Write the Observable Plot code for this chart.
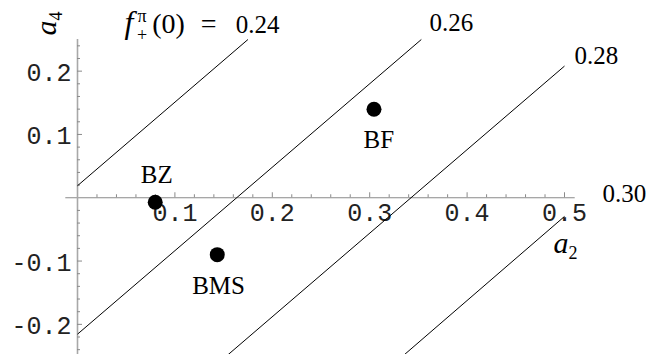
<!DOCTYPE html>
<html><head><meta charset="utf-8">
<script src="https://cdn.jsdelivr.net/npm/d3@7"></script>
<script src="https://cdn.jsdelivr.net/npm/@observablehq/plot@0.6"></script>
<style>html,body{margin:0;padding:0;background:#fff} svg{display:block}</style>
</head><body><div id="chart"></div>
<script>
// Contour lines of f_+^pi(0) in the (a2, a4) plane: endpoints
const contourLabels = ["0.24", "0.26", "0.28", "0.30"];
const lineA2Start = [0, 0, 0.153, 0.334];
const lineA4Start = [0.019, -0.2155, -0.25, -0.25];
const lineA2End = [0.175, 0.353, 0.5, 0.5];
const lineA4End = [0.25, 0.25, 0.208, -0.0295];
const contourLabelA2 = [0.0483, 0.3614, 0.5103, 0.539];
const contourLabelA4 = [0.2722, 0.2758, 0.2243, 0.0052];

// Points
const pointNames = ["BZ", "BMS", "BF"];
const pointA2 = [0.0798, 0.1435, 0.3044];
const pointA4 = [-0.007, -0.0899, 0.1398];
const pointLabelA2 = [0.0814, 0.1448, 0.3093];
const pointLabelA4 = [0.0352, -0.1393, 0.0918];

// Axes
const xTickValues = [0.1, 0.2, 0.3, 0.4, 0.5];
const xTickLabels = ["0.1", "0.2", "0.3", "0.4", "0.5"];
const yTickValues = [-0.2, -0.1, 0.1, 0.2];
const yTickLabels = ["-0.2", "-0.1", "0.1", "0.2"];
const xMinorTicks = [0.02,0.04,0.06,0.08,0.12,0.14,0.16,0.18,0.22,0.24,0.26,0.28,0.32,0.34,0.36,0.38,0.42,0.44,0.46,0.48];
const yMinorTicks = [-0.24,-0.22,-0.18,-0.16,-0.14,-0.12,-0.08,-0.06,-0.04,-0.02,0.02,0.04,0.06,0.08,0.12,0.14,0.16,0.18,0.22,0.24];
const xAxisExtent = [-0.012, 0.511];
const yAxisExtent = [-0.25, 0.25];
const axisTitles = ["a2", "a4"];
const axisTitleA2 = [0.4887, -0.0308];
const axisTitleA4 = [-0.074, 0.2564];

const lines = contourLabels.map((c, i) => ({c, x1: lineA2Start[i], y1: lineA4Start[i], x2: lineA2End[i], y2: lineA4End[i]}));
const contourText = contourLabels.map((c, i) => ({t: i === 0 ? "f+π(0) = " + c : c, x: contourLabelA2[i], y: contourLabelA4[i]}));
const points = pointNames.map((n, i) => ({n, x: pointA2[i], y: pointA4[i], lx: pointLabelA2[i], ly: pointLabelA4[i]}));

const serif = "Liberation Serif, Times New Roman, serif";
const mono = "Liberation Mono, Courier New, monospace";

const plot = Plot.plot({
  width: 650,
  height: 354,
  x: {domain: [0, 0.5], range: [77, 564], axis: null},
  y: {domain: [-0.25, 0.25], range: [355.5, 39], axis: null},
  style: {background: "#fff"},
  marks: [
    // axis lines
    Plot.ruleY([0], {x1: xAxisExtent[0], x2: xAxisExtent[1], stroke: "#8a8a8a", strokeWidth: 1}),
    Plot.ruleX([0], {y1: yAxisExtent[0], y2: yAxisExtent[1], stroke: "#a8a8a8", strokeWidth: 1.6}),
    // ticks
    Plot.ruleX(xMinorTicks, {x: d => d, y1: 0, y2: 0, insetTop: -3, stroke: "#8a8a8a"}),
    Plot.ruleX(xTickValues, {x: d => d, y1: 0, y2: 0, insetTop: -5, stroke: "#8a8a8a"}),
    Plot.ruleY(yMinorTicks, {y: d => d, x1: 0, x2: 0, insetRight: -3, stroke: "#8a8a8a"}),
    Plot.ruleY(yTickValues, {y: d => d, x1: 0, x2: 0, insetRight: -5, stroke: "#8a8a8a"}),
    // tick labels
    Plot.text(xTickValues, {x: d => d, y: 0, text: (d, i) => xTickLabels[i], dy: 15.7, fontFamily: mono, fontSize: 25, fill: "#222"}),
    Plot.text(yTickValues, {x: 0, y: d => d, text: (d, i) => yTickLabels[i], dx: -6, dy: 2, textAnchor: "end", fontFamily: mono, fontSize: 25, fill: "#222"}),
    // contour lines
    Plot.link(lines, {x1: "x1", y1: "y1", x2: "x2", y2: "y2", stroke: "#000", strokeWidth: 1}),
    Plot.text(contourText, {x: "x", y: "y", text: "t", textAnchor: "start", fontFamily: serif, fontSize: 25, fill: "#000"}),
    // points
    Plot.dot(points, {x: "x", y: "y", r: 7.5, fill: "#000", stroke: "none"}),
    Plot.text(points, {x: "lx", y: "ly", text: "n", fontFamily: serif, fontSize: 25, fill: "#000"}),
    // axis titles
    Plot.text([0], {x: axisTitleA2[0], y: axisTitleA4[0], text: [axisTitles[0]], textAnchor: "start", fontFamily: serif, fontSize: 25, fill: "#000"}),
    Plot.text([0], {x: axisTitleA2[1], y: axisTitleA4[1], text: [axisTitles[1]], textAnchor: "start", rotate: -90, fontFamily: serif, fontSize: 25, fill: "#000"})
  ]
});

const NS = "http://www.w3.org/2000/svg";
function rich(t, parts) {
  while (t.firstChild) t.removeChild(t.firstChild);
  for (const p of parts) {
    const s = document.createElementNS(NS, "tspan");
    s.textContent = p.t;
    if (p.italic) s.setAttribute("font-style", "italic");
    if (p.size) s.style.fontSize = p.size + "px";
    if (p.dx) s.setAttribute("dx", p.dx);
    if (p.dy) s.setAttribute("dy", p.dy);
    t.appendChild(s);
  }
}
plot.querySelectorAll("text").forEach(t => {
  const s = t.textContent;
  if (s.startsWith("f+π")) {
    rich(t, [
      {t: "f", italic: true, size: 32},
      {t: "π", size: 18, dx: 4, dy: -11},
      {t: "+", size: 18, dx: -9.5, dy: 19},
      {t: "(0)", size: 28, dx: 5, dy: -8},
      {t: "=", size: 28, dx: 16},
      {t: s.slice(s.indexOf("=") + 2), size: 25, dx: 19}
    ]);
  } else if (s === "a2" || s === "a4") {
    rich(t, [
      {t: "a", italic: true, size: 30},
      {t: s.slice(1), size: 18, dy: 6}
    ]);
  }
});
document.getElementById("chart").appendChild(plot);
</script>
</body></html>
